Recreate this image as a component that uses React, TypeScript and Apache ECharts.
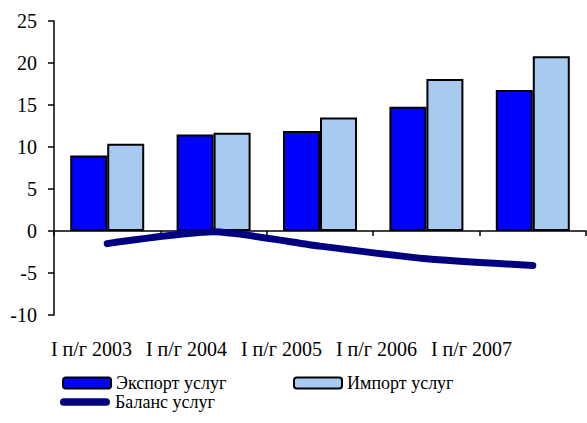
import React, { useEffect, useRef } from "react";
import * as echarts from "echarts";

const categories = ["I п/г 2003", "I п/г 2004", "I п/г 2005", "I п/г 2006", "I п/г 2007"];
const exportValues = [9.0, 11.5, 11.9, 14.8, 16.8];
const importValues = [10.4, 11.7, 13.5, 18.1, 20.8];
const balanceValues = [-1.5, -0.1, -1.8, -3.3, -4.1];
const seriesNames = ["Экспорт услуг", "Импорт услуг", "Баланс услуг"];

const FONT = "Liberation Serif";
const CSS = `.chartbox svg text, .chartbox svg tspan { font-family: "Liberation Serif", "Times New Roman", serif !important; }`;

export default function App() {
  const ref = useRef<HTMLDivElement>(null);
  useEffect(() => {
    if (!ref.current) return;
    const chart = echarts.init(ref.current, undefined, { renderer: "svg" });
    chart.setOption({
      animation: false,
      backgroundColor: "#fff",
      textStyle: { fontFamily: FONT, color: "#000" },
      grid: [
        { left: 54, top: 21, width: 532, height: 294 },
        { left: 44, top: 300, width: 475, height: 31 },
      ],
      xAxis: [
        {
          type: "category",
          gridIndex: 0,
          data: categories,
          axisLine: { onZero: true, lineStyle: { color: "#000", width: 1.5 } },
          axisTick: { show: true, length: 5, lineStyle: { color: "#000", width: 1.5 } },
          axisLabel: { show: false },
        },
        {
          type: "category",
          gridIndex: 1,
          data: categories,
          axisLine: { show: false },
          axisTick: { show: false },
          axisLabel: { fontFamily: FONT, fontSize: 20, color: "#000", margin: 8, interval: 0 },
        },
      ],
      yAxis: [
        {
          type: "value",
          gridIndex: 0,
          min: -10,
          max: 25,
          interval: 5,
          splitLine: { show: false },
          axisLine: { show: true, lineStyle: { color: "#000", width: 1.5 } },
          axisTick: { show: true, length: 6, lineStyle: { color: "#000", width: 1.5 } },
          axisLabel: { fontFamily: FONT, fontSize: 20, color: "#000", margin: 17 },
        },
        { type: "value", gridIndex: 1, show: false },
      ],
      legend: [
        {
          data: [seriesNames[0]],
          left: 62,
          top: 374,
          padding: 0,
          itemWidth: 48,
          itemHeight: 11,
          textStyle: { fontFamily: FONT, fontSize: 18, color: "#000" },
        },
        {
          data: [seriesNames[1]],
          left: 293,
          top: 374,
          padding: 0,
          itemWidth: 48,
          itemHeight: 11,
          textStyle: { fontFamily: FONT, fontSize: 18, color: "#000" },
        },
        {
          data: [
            {
              name: seriesNames[2],
              icon: "path://M4,0 L48,0 A4,4 0 0 1 48,8 L4,8 A4,4 0 0 1 4,0 Z",
            },
          ],
          left: 60,
          top: 393,
          padding: 0,
          itemWidth: 50,
          itemHeight: 8,
          textStyle: { fontFamily: FONT, fontSize: 18, color: "#000" },
        },
      ],
      series: [
        {
          name: seriesNames[0],
          type: "bar",
          xAxisIndex: 0,
          yAxisIndex: 0,
          data: exportValues,
          barWidth: 37,
          barGap: "0%",
          itemStyle: { color: "#0000FF", borderColor: "#000", borderWidth: 2 },
        },
        {
          name: seriesNames[1],
          type: "bar",
          xAxisIndex: 0,
          yAxisIndex: 0,
          data: importValues,
          barWidth: 37,
          barGap: "0%",
          itemStyle: { color: "#A6CAF0", borderColor: "#000", borderWidth: 2 },
        },
        {
          name: seriesNames[2],
          type: "line",
          xAxisIndex: 0,
          yAxisIndex: 0,
          data: balanceValues,
          smooth: 0.2,
          symbol: "none",
          lineStyle: { color: "#000080", width: 7, cap: "round", join: "round" },
          itemStyle: { color: "#000080" },
          z: 5,
        },
      ],
    });
    return () => chart.dispose();
  }, []);
  return (
    <>
      <style>{CSS}</style>
      <div
        ref={ref}
        className="chartbox"
        style={{ position: "fixed", left: 0, top: 0, width: 587, height: 423 }}
      />
    </>
  );
}
